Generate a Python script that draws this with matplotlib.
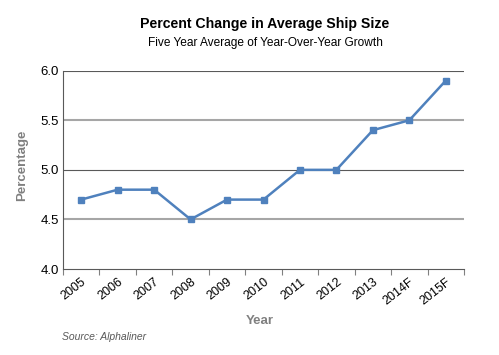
import matplotlib
matplotlib.use('Agg')
import matplotlib.pyplot as plt

plt.rcParams['font.family'] = ['Liberation Sans', 'DejaVu Sans']

years = ['2005', '2006', '2007', '2008', '2009', '2010', '2011', '2012', '2013', '2014F', '2015F']
pct = [4.7, 4.8, 4.8, 4.5, 4.7, 4.7, 5.0, 5.0, 5.4, 5.5, 5.9]

fig = plt.figure(figsize=(4.99, 3.55), dpi=100)
ax = fig.add_axes([63/499, 1 - 269/355, 401/499, 198.3/355])

x = list(range(len(years)))
ax.plot(x, pct, '-s', color='#4F81BD', lw=1.8, ms=5, zorder=3)

ax.set_xlim(-0.5, len(years) - 0.5)
ax.set_ylim(4.0, 6.0)

# alternating grid lines like the original
for v, c, w in [(4.5, '#A6A6A6', 1.5), (5.0, '#595959', 0.8), (5.5, '#A6A6A6', 1.5), (6.0, '#595959', 0.8)]:
    ax.axhline(v, color=c, lw=w, zorder=1)

ax.set_yticks([4.0, 4.5, 5.0, 5.5, 6.0])
ax.set_yticklabels(['4.0', '4.5', '5.0', '5.5', '6.0'], fontsize=9.5)
ax.set_xticks(x)
ax.set_xticklabels(years, rotation=38, ha='right', rotation_mode='anchor', fontsize=9)
ax.set_xticks([i - 0.5 for i in range(len(years) + 1)], minor=True)
ax.tick_params(axis='x', which='major', length=0, pad=5)
ax.tick_params(axis='x', which='minor', length=4, color='#808080', width=0.8)
ax.tick_params(axis='y', length=0, pad=3)

for s in ['top', 'right']:
    ax.spines[s].set_visible(False)
ax.spines['left'].set_color('#595959')
ax.spines['bottom'].set_color('#595959')
ax.spines['left'].set_linewidth(0.8)
ax.spines['bottom'].set_linewidth(0.8)

fig.text(265/499, 1 - 24/355, 'Percent Change in Average Ship Size', ha='center', va='center',
         fontsize=10.2, fontweight='bold')
fig.text(265/499, 1 - 43/355, 'Five Year Average of Year-Over-Year Growth', ha='center', va='center',
         fontsize=8.6)
fig.text(22/499, 1 - 165/355, 'Percentage', rotation=90, ha='center', va='center',
         fontsize=9.5, fontweight='bold', color='#808080')
fig.text(260/499, 1 - 321/355, 'Year', ha='center', va='center',
         fontsize=9.5, fontweight='bold', color='#808080')
fig.text(62/499, 1 - 337/355, 'Source: Alphaliner', ha='left', va='center',
         fontsize=7.5, style='italic', color='#595959')

fig.savefig('out.png', dpi=100)
